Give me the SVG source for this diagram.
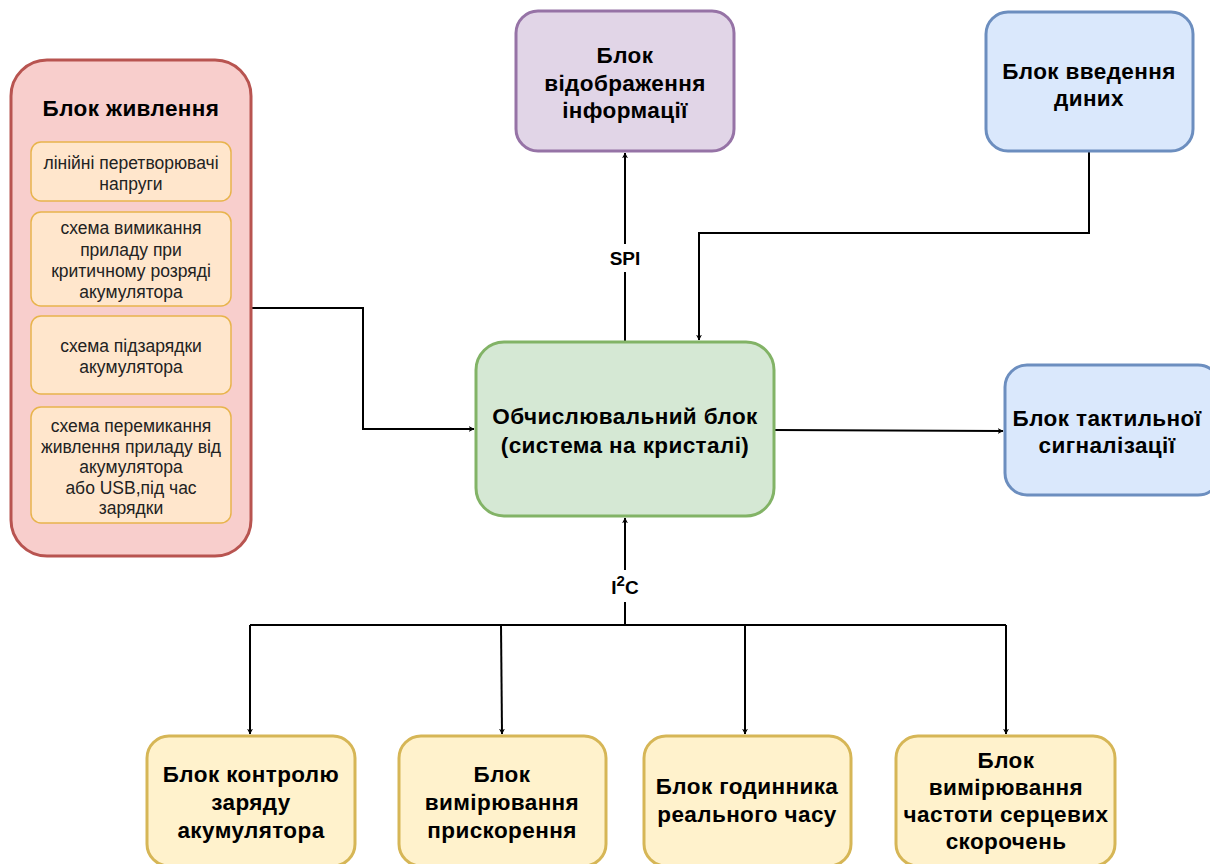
<svg xmlns="http://www.w3.org/2000/svg" width="1210" height="864" viewBox="0 0 1210 864">
  <style>
    .t { font-family: "Liberation Sans", Arial, sans-serif; font-weight: bold; font-size: 22.5px; letter-spacing: 0.4px; fill: #000; text-anchor: middle; }
    .s { font-family: "Liberation Sans", Arial, sans-serif; font-size: 17.5px; fill: #222; text-anchor: middle; }
    .lbl { font-family: "Liberation Sans", Arial, sans-serif; font-weight: bold; font-size: 19px; fill: #000; text-anchor: middle; }
    .red { fill: #f8cecc; stroke: #b85450; stroke-width: 3; }
    .sub { fill: #ffe6cc; stroke: #e8b44c; stroke-width: 1.5; }
    .purple { fill: #e1d5e7; stroke: #9673a6; stroke-width: 3; }
    .blue { fill: #dae8fc; stroke: #6c8ebf; stroke-width: 3; }
    .green { fill: #d5e8d4; stroke: #82b366; stroke-width: 3; }
    .yellow { fill: #fff2cc; stroke: #d6b656; stroke-width: 3; }
    .wire { fill: none; stroke: #000; stroke-width: 2; }
  </style>
  <defs>
    <marker id="arrow" viewBox="0 0 10 10" refX="9" refY="5" markerWidth="6" markerHeight="6" orient="auto" markerUnits="userSpaceOnUse">
      <path d="M0,0 L10,5 L0,10 L3,5 Z" fill="#000"/>
    </marker>
  </defs>
  <rect width="1210" height="864" fill="#fff"/>

  <!-- connectors -->
  <g id="connectors">
    <path class="wire" d="M251,308 H363 V429 H474" marker-end="url(#arrow)"/>
    <path class="wire" d="M625,342 V272"/>
    <path class="wire" d="M625,244 V153" marker-end="url(#arrow)"/>
    <path class="wire" d="M1089,151 V233 H699 V340" marker-end="url(#arrow)"/>
    <path class="wire" d="M774,430 L1003,431" marker-end="url(#arrow)"/>
    <path class="wire" d="M625,625 V602"/>
    <path class="wire" d="M625,570 V518" marker-end="url(#arrow)"/>
    <path class="wire" d="M250,625 H1006"/>
    <path class="wire" d="M250,625 V734" marker-end="url(#arrow)"/>
    <path class="wire" d="M501,625 L502,734" marker-end="url(#arrow)"/>
    <path class="wire" d="M745,625 V734" marker-end="url(#arrow)"/>
    <path class="wire" d="M1006,625 V734" marker-end="url(#arrow)"/>
    <text class="lbl" x="625" y="265">SPI</text>
    <text class="lbl" x="625" y="594">I<tspan dy="-8" font-size="15">2</tspan><tspan dy="8">C</tspan></text>
  </g>

  <!-- power supply block with its sub-circuits -->
  <g id="power">
    <rect class="red" x="11" y="60" width="240" height="496" rx="36"/>
    <text class="t" x="131" y="116">Блок живлення</text>
    <rect class="sub" x="31" y="142" width="200" height="59" rx="10"/>
    <text class="s" x="131" y="169">лінійні перетворювачі</text>
    <text class="s" x="131" y="190">напруги</text>
    <rect class="sub" x="31" y="212" width="200" height="94" rx="10"/>
    <text class="s" x="131" y="234">схема вимикання</text>
    <text class="s" x="131" y="256">приладу при</text>
    <text class="s" x="131" y="277">критичному розряді</text>
    <text class="s" x="131" y="298">акумулятора</text>
    <rect class="sub" x="31" y="316" width="200" height="78" rx="10"/>
    <text class="s" x="131" y="352">схема підзарядки</text>
    <text class="s" x="131" y="373">акумулятора</text>
    <rect class="sub" x="31" y="407" width="200" height="116" rx="10"/>
    <text class="s" x="131" y="432">схема перемикання</text>
    <text class="s" x="131" y="453">живлення приладу від</text>
    <text class="s" x="131" y="473">акумулятора</text>
    <text class="s" x="131" y="494">або USB,під час</text>
    <text class="s" x="131" y="514">зарядки</text>
  </g>

  <g id="display">
    <rect class="purple" x="516" y="11" width="218" height="140" rx="22"/>
    <text class="t" x="625" y="63">Блок</text>
    <text class="t" x="625" y="91">відображення</text>
    <text class="t" x="625" y="118">інформації</text>
  </g>

  <g id="input">
    <rect class="blue" x="986" y="12" width="207" height="139" rx="22"/>
    <text class="t" x="1089" y="79">Блок введення</text>
    <text class="t" x="1089" y="106">диних</text>
  </g>

  <g id="soc">
    <rect class="green" x="476" y="342" width="298" height="174" rx="28"/>
    <text class="t" x="625" y="424">Обчислювальний блок</text>
    <text class="t" x="625" y="453">(система на кристалі)</text>
  </g>

  <g id="haptic">
    <rect class="blue" x="1005" y="365" width="215" height="130" rx="22"/>
    <text class="t" x="1107" y="426">Блок тактильної</text>
    <text class="t" x="1107" y="453">сигналізації</text>
  </g>

  <g id="charge">
    <rect class="yellow" x="147" y="736" width="208" height="130" rx="22"/>
    <text class="t" x="251" y="782">Блок контролю</text>
    <text class="t" x="251" y="810">заряду</text>
    <text class="t" x="251" y="838">акумулятора</text>
  </g>

  <g id="accel">
    <rect class="yellow" x="399" y="736" width="207" height="130" rx="22"/>
    <text class="t" x="502" y="782">Блок</text>
    <text class="t" x="502" y="810">вимірювання</text>
    <text class="t" x="502" y="838">прискорення</text>
  </g>

  <g id="rtc">
    <rect class="yellow" x="644" y="736" width="207" height="130" rx="22"/>
    <text class="t" x="747" y="794">Блок годинника</text>
    <text class="t" x="747" y="822">реального часу</text>
  </g>

  <g id="heart">
    <rect class="yellow" x="896" y="736" width="219" height="130" rx="22"/>
    <text class="t" x="1006" y="768">Блок</text>
    <text class="t" x="1006" y="795">вимірювання</text>
    <text class="t" x="1006" y="822">частоти серцевих</text>
    <text class="t" x="1006" y="849">скорочень</text>
  </g>
</svg>
